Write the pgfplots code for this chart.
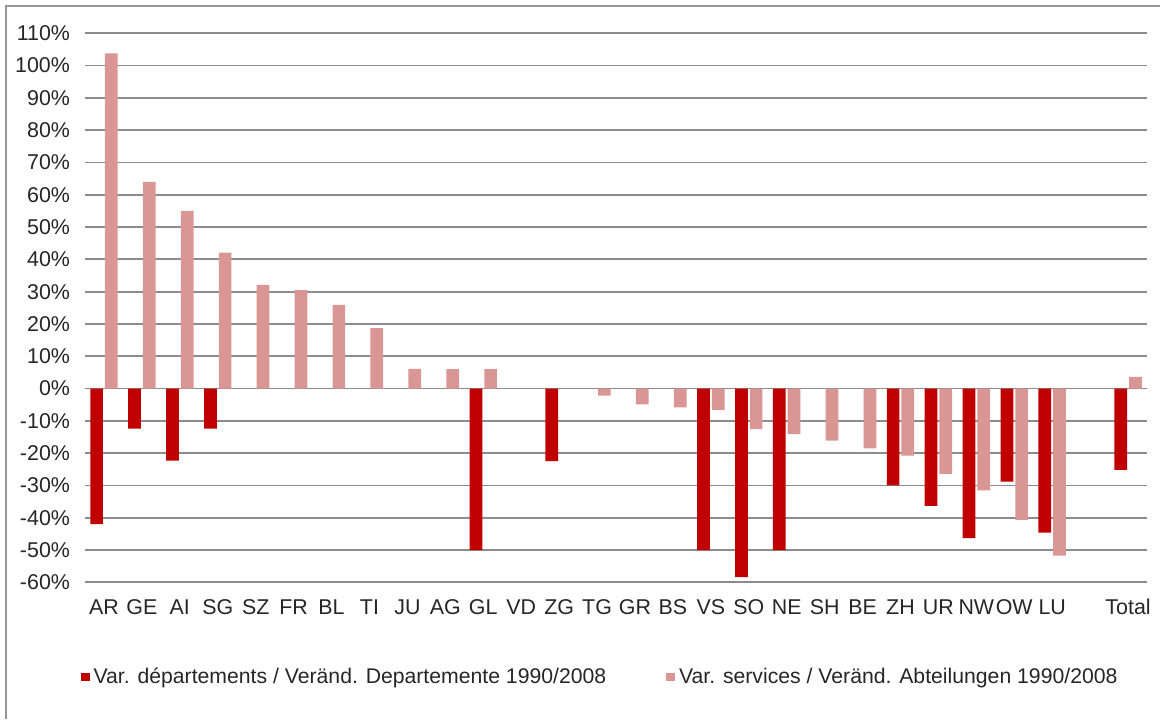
\documentclass[border=0pt]{standalone}
\usepackage{pgfplots}
\pgfplotsset{compat=1.18}
\usepackage{fontspec}
\setmainfont{Liberation Sans}
\definecolor{dept}{RGB}{192,0,0}
\definecolor{serv}{RGB}{217,150,148}
\definecolor{gridc}{RGB}{140,140,140}
\definecolor{framec}{RGB}{150,150,150}
\begin{document}
\begin{tikzpicture}
\useasboundingbox (0,0) rectangle (580pt,359.5pt);
\draw[framec, line width=1pt] (3pt,0) -- (3pt,356.5pt) -- (580pt,356.5pt);
\begin{axis}[
  at={(42.5pt,68.35pt)}, anchor=south west,
  scale only axis, width=531pt, height=274.5pt,
  ybar=1pt, bar width=6.35pt,
  xmin=-0.5, xmax=27.5, ymin=-60, ymax=110,
  axis line style={draw=none},
  ymajorgrids, grid style={gridc, line width=0.9pt},
  ytick={-60,-50,...,110},
  yticklabels={-60\%,-50\%,-40\%,-30\%,-20\%,-10\%,0\%,10\%,20\%,30\%,40\%,50\%,60\%,70\%,80\%,90\%,100\%,110\%},
  xtick={0,1,...,25,27},
  xticklabels={AR,GE,AI,SG,SZ,FR,BL,TI,JU,AG,GL,VD,ZG,TG,GR,BS,VS,SO,NE,SH,BE,ZH,UR,NW,OW,LU,Total},
  major tick length=0pt,
  tick label style={font=\fontsize{10.7}{12}\selectfont, text=black!85},
  yticklabel style={anchor=east, xshift=-4pt},
  xticklabel style={anchor=north, yshift=-5pt},
  clip=false,
  legend columns=2,
  legend style={at={(0.486,-0.1725)}, anchor=center, draw=none, fill=none,
    font=\fontsize{10.6}{12}\selectfont, text=black!85,
    /tikz/every even column/.append style={column sep=28pt}},
  legend image code/.code={\fill[#1] (0pt,-2.2pt) rectangle (4.4pt,2.2pt);},
]
\addplot[fill=dept, draw=none] coordinates {
 (0,-42) (1,-12.4) (2,-22.3) (3,-12.4) (10,-50) (12,-22.5)
 (16,-50) (17,-58.4) (18,-50) (21,-30) (22,-36.3) (23,-46.3) (24,-28.8) (25,-44.6) (27,-25.2)};
\addplot[fill=serv, draw=none] coordinates {
 (0,103.8) (1,64) (2,55) (3,42.1) (4,32.1) (5,30.5) (6,25.9) (7,18.7) (8,6.1) (9,6) (10,6)
 (13,-2.2) (14,-4.9) (15,-5.8) (16,-6.6) (17,-12.6) (18,-14.1) (19,-16.1) (20,-18.5)
 (21,-20.8) (22,-26.4) (23,-31.5) (24,-40.7) (25,-51.7) (27,3.6)};
\legend{Var. départements / Veränd. Departemente 1990/2008, Var. services / Veränd. Abteilungen 1990/2008}
\end{axis}
\end{tikzpicture}
\end{document}
